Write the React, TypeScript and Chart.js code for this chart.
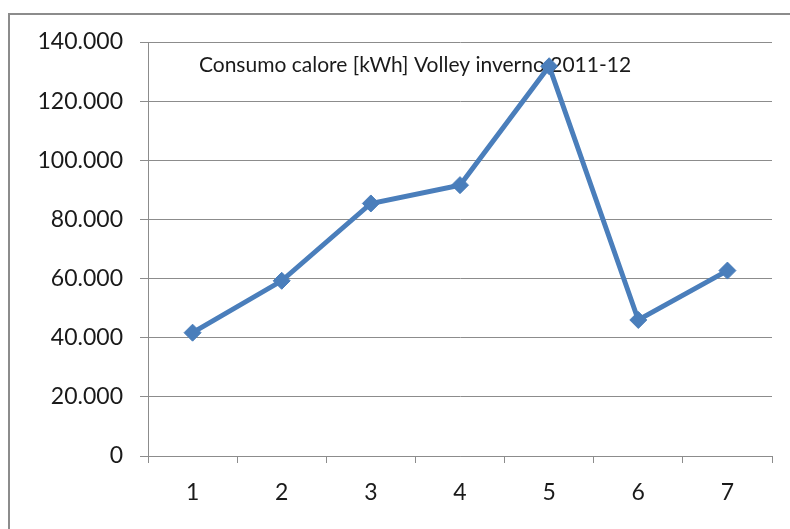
import React, { useEffect, useRef } from "react";
import { Chart, registerables } from "chart.js";

Chart.register(...registerables);

const categories: string[] = ["1", "2", "3", "4", "5", "6", "7"];
const consumo: number[] = [41700, 59250, 85400, 91600, 131800, 46000, 62700];
const titleText = "Consumo calore [kWh] Volley inverno 2011-12";
const yMin = 0;
const yMax = 140000;
const yStep = 20000;

const FONT = "Lato, 'Open Sans', sans-serif";

function fmt(v: number): string {
  if (v === 0) return "0";
  const s = Math.round(v).toString();
  return s.replace(/\B(?=(\d{3})+(?!\d))/g, ".");
}

const framePlugin = {
  id: "frame",
  beforeDraw(chart: any) {
    const ctx = chart.ctx;
    ctx.save();
    ctx.fillStyle = "#ffffff";
    ctx.fillRect(0, 0, chart.width, chart.height);
    ctx.strokeStyle = "#8c8c8c";
    ctx.lineWidth = 2;
    ctx.strokeRect(9, 14, chart.width + 20, chart.height + 20);
    ctx.restore();
  },
  beforeDatasetsDraw(chart: any) {
    const ctx = chart.ctx;
    const a = chart.chartArea;
    ctx.save();
    ctx.fillStyle = "#1a1a1a";
    ctx.font = `21px ${FONT}`;
    ctx.textAlign = "center";
    ctx.textBaseline = "middle";
    ctx.fillText(titleText, (a.left + a.right) / 2 - 45, 65);
    ctx.restore();
  },
};

export default function App() {
  const ref = useRef<HTMLCanvasElement | null>(null);
  useEffect(() => {
    if (!ref.current) return;
    const chart = new Chart(ref.current, {
      type: "line",
      data: {
        labels: categories,
        datasets: [
          {
            data: consumo,
            borderColor: "#4a7ebb",
            backgroundColor: "#4a7ebb",
            borderWidth: 5,
            pointStyle: "rectRot",
            pointRadius: 8.5,
            pointBorderWidth: 1,
            pointBackgroundColor: "#4a7ebb",
            pointBorderColor: "#4a7ebb",
            tension: 0,
          },
        ],
      },
      options: {
        animation: false,
        responsive: false,
        maintainAspectRatio: false,
        layout: { padding: { left: 0, top: 42, right: 18, bottom: 0 } },
        plugins: {
          legend: { display: false },
          title: { display: false },
          tooltip: { enabled: false },
        },
        scales: {
          x: {
            offset: true,
            grid: {
              offset: true,
              display: true,
              drawOnChartArea: false,
              drawTicks: true,
              tickLength: 7,
              color: "#8c8c8c",
            },
            border: { display: true, color: "#8c8c8c", width: 1 },
            ticks: {
              color: "#1a1a1a",
              font: { family: FONT, size: 23 },
              padding: 16,
              maxRotation: 0,
            },
            afterFit(scale: any) {
              scale.height = 73;
            },
          },
          y: {
            min: yMin,
            max: yMax,
            grid: {
              color: "#8c8c8c",
              drawTicks: true,
              tickLength: 8,
            },
            border: { display: true, color: "#8c8c8c", width: 1 },
            ticks: {
              stepSize: yStep,
              color: "#1a1a1a",
              font: { family: FONT, size: 23 },
              padding: 17,
              callback: (v: any) => fmt(Number(v)),
            },
            afterFit(scale: any) {
              scale.width = 148;
            },
          },
        },
      },
      plugins: [framePlugin],
    });
    return () => chart.destroy();
  }, []);
  return (
    <div style={{ position: "fixed", left: 0, top: 0, width: 790, height: 529 }}>
      <canvas ref={ref} width={790} height={529} style={{ width: 790, height: 529, display: "block" }} />
    </div>
  );
}
